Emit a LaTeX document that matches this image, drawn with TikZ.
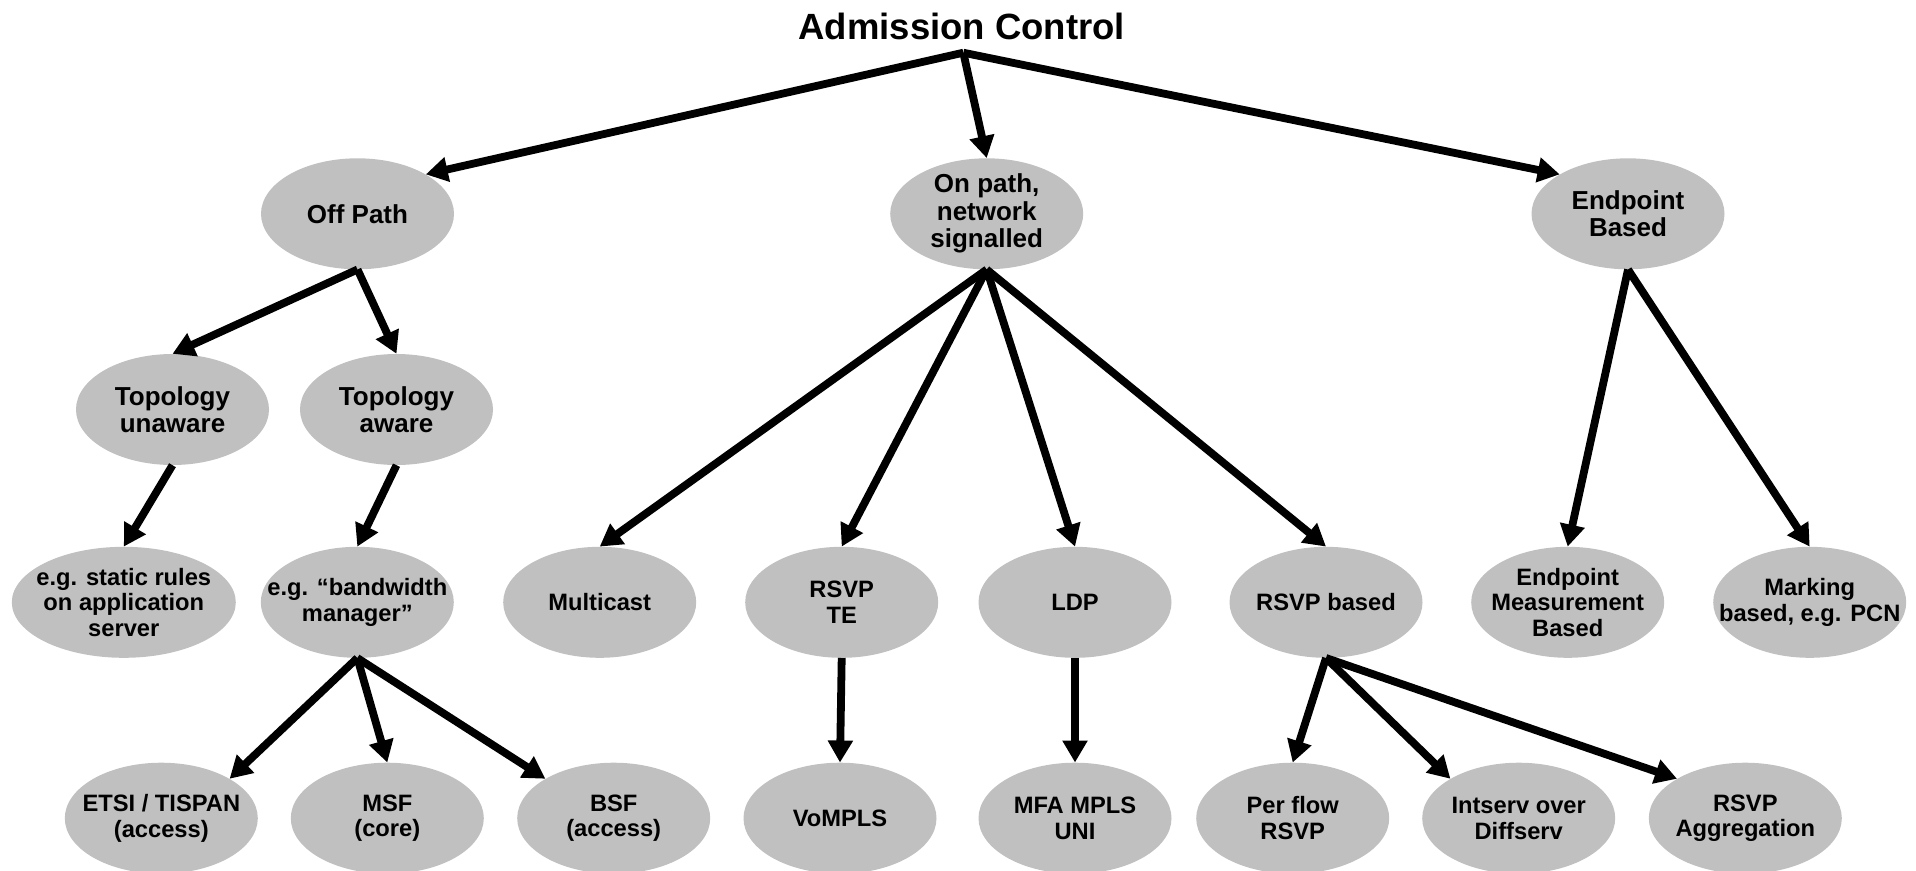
\documentclass[tikz,border=0pt]{standalone}
\usepackage{fontspec}
\setmainfont{Liberation Sans}
\usetikzlibrary{shapes.geometric,arrows.meta}
\definecolor{nodegray}{RGB}{192,192,192}
\begin{document}
\begin{tikzpicture}[x=1pt,y=-1pt,
  bubble/.style={ellipse, fill=nodegray, draw=none, minimum width=193pt,
    minimum height=111pt, inner sep=0pt},
  bigtxt/.style={font=\fontsize{26}{27.5}\selectfont\bfseries, align=center, inner sep=0pt},
  smalltxt/.style={font=\fontsize{23.7}{25.6}\selectfont\bfseries, align=center, inner sep=0pt},
  upper/.style={bubble, label={[bigtxt]center:{#1}}},
  lower/.style={bubble, label={[smalltxt]center:{#1}}},
  link/.style={line width=7.8pt, -{Triangle[length=22pt,width=24pt]}},
]
\useasboundingbox (0,0) rectangle (1916,870);

% title and the point where the three main branches meet
\node[font=\fontsize{36.5}{40}\selectfont\bfseries, anchor=base, inner sep=0pt]
  (title) at (961.7,39) {Admission Control};
\coordinate (apex) at (963.3,52.7);

% first level
\node[upper={Off Path}] (offpath) at (357.5,213.8) {};
\node[upper={On path,\\network\\signalled}] (onpath) at (986.7,213.8) {};
\node[upper={Endpoint\\Based}] (endpoint) at (1628,213.8) {};

% second level
\node[upper={Topology\\unaware}] (tunaware) at (172.5,409.5) {};
\node[upper={Topology\\aware}] (taware) at (396.5,409.5) {};

% third level
\node[lower={e.g. static rules\\on application\\server}, minimum width=224pt] (static) at (123.8,602.3) {};
\node[lower={e.g. “bandwidth\\manager”}] (bwm) at (357.3,602.3) {};
\node[lower={Multicast}] (mcast) at (599.7,602.3) {};
\node[lower={RSVP\\TE}] (rsvpte) at (841.7,602.3) {};
\node[lower={LDP}] (ldp) at (1075,602.3) {};
\node[lower={RSVP based}] (rsvpb) at (1326,602.3) {};
\node[lower={Endpoint\\Measurement\\Based}] (emb) at (1567.7,602.3) {};
\node[lower={Marking\\based, e.g. PCN}] (mark) at (1809.7,602.3) {};

% fourth level
\node[lower={ETSI / TISPAN\\(access)}] (etsi) at (161.3,818.2) {};
\node[lower={MSF\\(core)}] (msf) at (387.3,818.2) {};
\node[lower={BSF\\(access)}] (bsf) at (613.7,818.2) {};
\node[lower={VoMPLS}] (vompls) at (840,818.2) {};
\node[lower={MFA MPLS\\UNI}] (mfa) at (1075,818.2) {};
\node[lower={Per flow\\RSVP}] (perflow) at (1292.7,818.2) {};
\node[lower={Intserv over\\Diffserv}] (intserv) at (1518.7,818.2) {};
\node[lower={RSVP\\Aggregation}] (aggr) at (1745.3,818.2) {};

% connectors
\draw[link] (apex) -- (offpath.30);
\draw[link] (apex) -- (onpath.north);
\draw[link] (apex) -- (endpoint.150);

\draw[link] (offpath.south) -- (tunaware.north);
\draw[link] (offpath.south) -- (taware.north);
\draw[link] (tunaware.south) -- (static.north);
\draw[link] (taware.south) -- (bwm.north);
\draw[link] (bwm.south) -- (etsi.30);
\draw[link] (bwm.south) -- (msf.north);
\draw[link] (bwm.south) -- (bsf.150);

\draw[link] (onpath.south) -- (mcast.north);
\draw[link] (onpath.south) -- (rsvpte.north);
\draw[link] (onpath.south) -- (ldp.north);
\draw[link] (onpath.south) -- (rsvpb.north);
\draw[link] (rsvpte.south) -- (vompls.north);
\draw[link] (ldp.south) -- (mfa.north);
\draw[link] (rsvpb.south) -- (perflow.north);
\draw[link] (rsvpb.south) -- (intserv.150);
\draw[link] (rsvpb.south) -- (aggr.150);

\draw[link] (endpoint.south) -- (emb.north);
\draw[link] (endpoint.south) -- (mark.north);
\end{tikzpicture}
\end{document}
